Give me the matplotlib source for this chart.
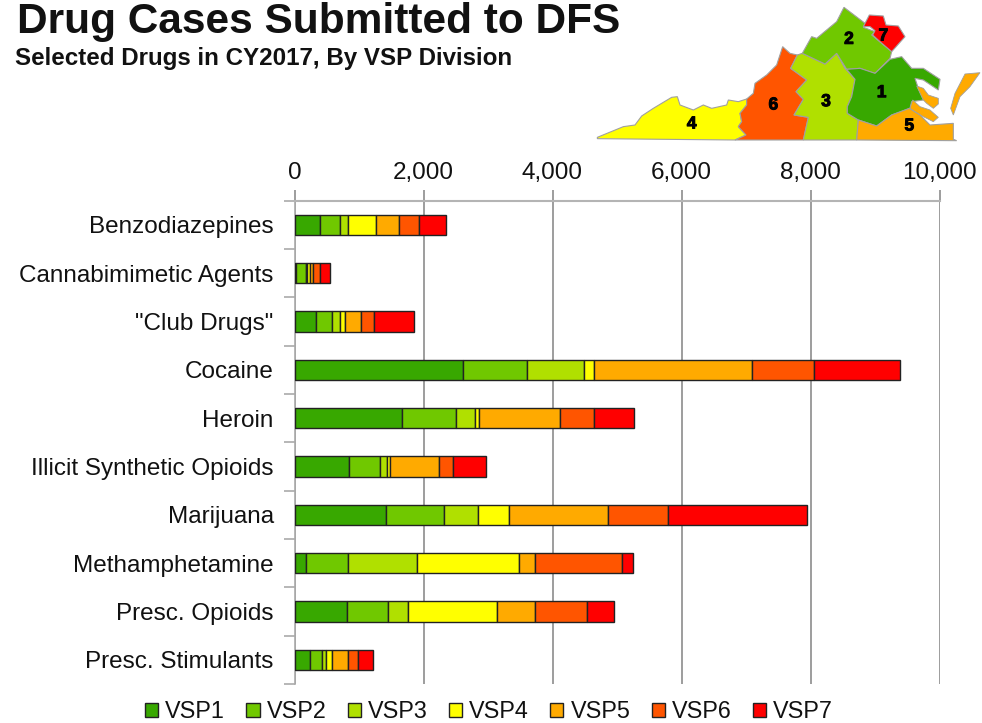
import numpy as np
import matplotlib
matplotlib.use('Agg')
import matplotlib.pyplot as plt
import matplotlib.patheffects as pe
from matplotlib.patches import Polygon

plt.rcParams['font.family'] = ['Liberation Sans', 'DejaVu Sans']

# Chart data
drugs = ['Benzodiazepines', 'Cannabimimetic Agents', '"Club Drugs"', 'Cocaine', 'Heroin',
         'Illicit Synthetic Opioids', 'Marijuana', 'Methamphetamine', 'Presc. Opioids', 'Presc. Stimulants']
vsp1 = [403, 31, 336, 2605, 1659, 848, 1426, 171, 811, 233]
vsp2 = [305, 140, 253, 1002, 847, 470, 894, 661, 646, 186]
vsp3 = [124, 20, 119, 884, 285, 119, 528, 1065, 305, 67]
vsp4 = [439, 47, 78, 150, 62, 36, 470, 1576, 1385, 103]
vsp5 = [352, 51, 248, 2457, 1261, 770, 1545, 253, 579, 238]
vsp6 = [310, 99, 201, 952, 527, 212, 928, 1354, 811, 155]
vsp7 = [418, 170, 610, 1336, 615, 511, 2162, 165, 424, 238]
series = [vsp1, vsp2, vsp3, vsp4, vsp5, vsp6, vsp7]
series_names = ['VSP1', 'VSP2', 'VSP3', 'VSP4', 'VSP5', 'VSP6', 'VSP7']
colors = ['#38A800', '#70C800', '#B0E000', '#FFFF00', '#FFAA00', '#FF5500', '#FF0000']
x_ticks = [0, 2000, 4000, 6000, 8000, 10000]

# Map outlines, in pixels of the map inset
map_regions = {
    '4': [(22, 412), (100, 380), (135, 375), (155, 348), (190, 325), (245, 292), (262, 290), (270, 315),
          (310, 330), (340, 315), (365, 325), (410, 315), (415, 300), (445, 305), (470, 297), (470, 315),
          (450, 340), (455, 365), (445, 380), (468, 405), (435, 420), (22, 416)],
    '6': [(470, 297), (490, 280), (495, 250), (530, 225), (560, 195), (578, 140), (600, 160), (622, 165),
          (602, 205), (650, 240), (618, 275), (640, 298), (612, 345), (655, 352), (640, 420), (435, 420),
          (468, 405), (445, 380), (455, 365), (450, 340), (470, 315)],
    '3': [(622, 165), (637, 160), (705, 192), (740, 160), (765, 205), (795, 238), (785, 290), (772, 320),
          (772, 340), (805, 360), (800, 420), (640, 420), (655, 352), (612, 345), (640, 298), (618, 275),
          (650, 240), (602, 205)],
    '2': [(637, 160), (665, 110), (680, 115), (740, 65), (762, 22), (825, 70), (820, 82), (855, 95),
          (845, 105), (905, 155), (900, 175), (855, 220), (810, 205), (770, 208), (740, 160), (705, 192)],
    '7': [(820, 80), (838, 45), (880, 48), (888, 75), (925, 78), (945, 110), (905, 155), (870, 125),
          (848, 105), (855, 92), (840, 80)],
    '1': [(770, 208), (810, 205), (855, 220), (900, 178), (935, 170), (965, 205), (1000, 205), (1050, 238),
          (1045, 270), (1000, 240), (975, 235), (985, 265), (1000, 300), (965, 305), (960, 325), (905, 345),
          (860, 378), (805, 360), (772, 340), (772, 320), (785, 290), (795, 238)],
    '5': [(805, 360), (860, 378), (905, 345), (958, 325), (990, 345), (1020, 375), (1090, 370), (1090, 418),
          (1100, 422), (800, 420)],
}
map_extra = [
    [(980, 258), (1000, 265), (1015, 285), (1045, 295), (1045, 312), (1030, 325), (1010, 310), (1000, 300)],
    [(968, 300), (990, 320), (1020, 330), (1045, 352), (1030, 365), (1000, 350), (975, 335), (960, 325)],
    [(1125, 222), (1170, 218), (1140, 260), (1110, 290), (1090, 345), (1082, 325), (1095, 280)],
]
map_colors = {'1': colors[0], '2': colors[1], '3': colors[2], '4': colors[3],
              '5': colors[4], '6': colors[5], '7': colors[6]}
map_labels = {'2': (777, 118), '7': (880, 108), '1': (875, 278), '3': (708, 305),
              '6': (550, 315), '4': (305, 372), '5': (958, 378)}

W, H = 982, 723
fig = plt.figure(figsize=(W / 100, H / 100), dpi=100)
ax = fig.add_axes([294.5 / W, (H - 684) / H, 645 / W, 483.3 / H])

y = np.arange(len(drugs))
left = np.zeros(len(drugs))
for values, name, color in zip(series, series_names, colors):
    ax.barh(y, values, left=left, height=0.42, color=color, edgecolor='#222222', linewidth=1.0,
            label=name, zorder=3)
    left += np.array(values)

ax.set_xlim(0, 10000)
ax.set_ylim(len(drugs) - 0.5, -0.5)
ax.xaxis.tick_top()
ax.set_xticks(x_ticks)
ax.set_xticklabels([f'{t:,}' for t in x_ticks], fontsize=17.5)
ax.tick_params(axis='x', length=8, width=1.2, color='#8c8c8c', pad=4, labelcolor='#111111')
ax.grid(axis='x', color='#8c8c8c', linewidth=1.2, zorder=1)

# ticks sit between the categories, labels in the middle
ax.set_yticks(np.arange(len(drugs) + 1) - 0.5)
ax.set_yticklabels([])
ax.set_yticks(y, minor=True)
ax.set_yticklabels(drugs, minor=True, fontsize=17.5, color='#111111')
ax.tick_params(axis='y', which='major', length=8, width=1.2, color='#aaaaaa')
ax.tick_params(axis='y', which='minor', length=0, pad=15)

for side in ['right', 'bottom']:
    ax.spines[side].set_visible(False)
ax.spines['top'].set_color('#b4b4b4')
ax.spines['top'].set_linewidth(1.5)
ax.spines['left'].set_color('#aaaaaa')
ax.spines['left'].set_linewidth(1.2)

fig.text(17 / W, 1 - 33 / H, 'Drug Cases Submitted to DFS', fontsize=30.5, fontweight='bold',
         va='baseline', ha='left', color='#111111')
fig.text(15 / W, 1 - 65 / H, 'Selected Drugs in CY2017, By VSP Division', fontsize=17.4, fontweight='bold',
         va='baseline', ha='left', color='#111111')

fig.legend(loc='center', bbox_to_anchor=(489 / W, 1 - 712 / H), ncol=7, frameon=False, fontsize=16.8,
           handlelength=0.57, handleheight=0.57, handletextpad=0.3, columnspacing=0.91,
           labelcolor='#111111', borderpad=0)

# Virginia map inset
map_ax = fig.add_axes([590 / W, 1 - 150 / H, 392 / W, 150 / H])
map_ax.set_xlim(0, 1176)
map_ax.set_ylim(450, 0)
map_ax.axis('off')
for key, outline in map_regions.items():
    map_ax.add_patch(Polygon(outline, closed=True, facecolor=map_colors[key], edgecolor='#a0a0a0', linewidth=0.8))
for outline in map_extra:
    map_ax.add_patch(Polygon(outline, closed=True, facecolor=map_colors['5'], edgecolor='#a0a0a0', linewidth=0.6))
for key, (px, py) in map_labels.items():
    map_ax.text(px, py, key, fontsize=12.5, fontweight='bold', ha='center', va='center', color='black',
                path_effects=[pe.withStroke(linewidth=0.7, foreground='black')])

fig.savefig('out.png', dpi=100)
